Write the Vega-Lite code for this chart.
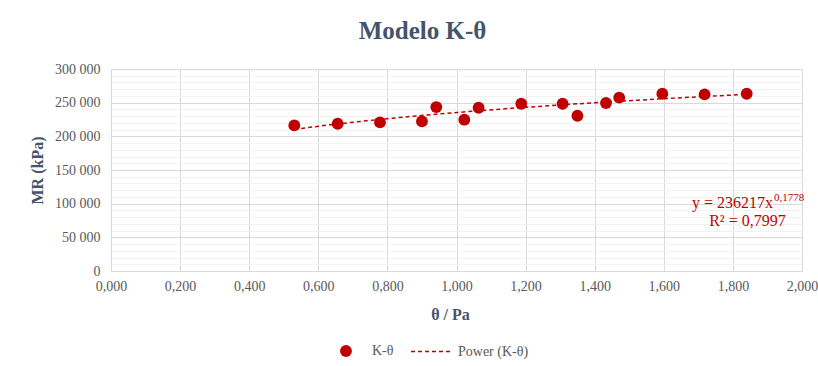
{
  "$schema": "https://vega.github.io/schema/vega-lite/v6.json",
  "width": 691,
  "height": 202,
  "autosize": {"type": "none"},
  "padding": {"left": 111, "top": 69, "right": 16, "bottom": 95},
  "background": "white",
  "title": {
    "text": "Modelo K-θ",
    "font": "Liberation Serif",
    "fontSize": 25,
    "fontWeight": "bold",
    "color": "#44546A",
    "anchor": "middle",
    "dx": -34,
    "offset": 18
  },
  "config": {
    "locale": {"number": {"decimal": ",", "thousands": " ", "grouping": [3], "currency": ["", ""]}},
    "view": {"stroke": null},
    "font": "Liberation Serif",
    "axis": {
      "titleFont": "Liberation Serif", "titleFontSize": 16, "titleFontWeight": "bold", "titleColor": "#44546A",
      "labelFont": "Liberation Serif", "labelFontSize": 14, "labelColor": "#595959",
      "labelOverlap": false, "ticks": false, "domainColor": "#D9D9D9", "gridColor": "#D9D9D9", "labelFlush": false
    },
    "axisX": {"titlePadding": 13, "labelPadding": 8, "titleX": 339},
    "axisY": {"titlePadding": 9, "labelPadding": 11}
  },
  "data": {
    "values": [
      {"theta": 0.5305, "MR": 216200},
      {"theta": 0.656, "MR": 218700},
      {"theta": 0.7786, "MR": 220700},
      {"theta": 0.900, "MR": 222200},
      {"theta": 0.9415, "MR": 243500},
      {"theta": 1.0226, "MR": 224700},
      {"theta": 1.064, "MR": 242500},
      {"theta": 1.1875, "MR": 248400},
      {"theta": 1.307, "MR": 248400},
      {"theta": 1.350, "MR": 230600},
      {"theta": 1.4327, "MR": 249500},
      {"theta": 1.471, "MR": 257400},
      {"theta": 1.5957, "MR": 263300},
      {"theta": 1.718, "MR": 262300},
      {"theta": 1.840, "MR": 263300}
    ]
  },
  "layer": [
    {
      "mark": {"type": "point", "filled": true, "size": 140, "opacity": 1, "color": "#C00000"},
      "encoding": {
        "x": {
          "field": "theta", "type": "quantitative",
          "scale": {"domain": [0, 2], "nice": false, "zero": true},
          "axis": {"values": [0, 0.2, 0.4, 0.6, 0.8, 1.0, 1.2, 1.4, 1.6, 1.8, 2.0], "format": ".3f", "title": "θ / Pa"}
        },
        "y": {
          "field": "MR", "type": "quantitative",
          "scale": {"domain": [0, 300000], "nice": false},
          "axis": {
            "values": [0, 10000, 20000, 30000, 40000, 50000, 60000, 70000, 80000, 90000, 100000, 110000, 120000, 130000, 140000, 150000, 160000, 170000, 180000, 190000, 200000, 210000, 220000, 230000, 240000, 250000, 260000, 270000, 280000, 290000, 300000],
            "format": ",d",
            "labelExpr": "datum.value % 50000 === 0 ? datum.label : ''",
            "title": "MR (kPa)",
            "gridColor": {"condition": {"test": "datum.value % 50000 === 0", "value": "#D9D9D9"}, "value": "#F2F2F2"}
          }
        },
        "shape": {
          "datum": "K-θ",
          "scale": {"domain": ["K-θ"], "range": ["circle"]},
          "legend": {
            "title": null,
            "orient": "none",
            "legendX": 228,
            "legendY": 275,
            "labelFont": "Liberation Serif",
            "labelFontSize": 14,
            "labelColor": "#595959",
            "symbolSize": 140,
            "symbolFillColor": "#C00000",
            "symbolStrokeWidth": 0,
            "symbolOpacity": 1,
            "labelOffset": 19
          }
        }
      }
    },
    {
      "transform": [{"regression": "MR", "on": "theta", "method": "pow"}],
      "mark": {"type": "line", "strokeWidth": 1.5, "color": "#C00000"},
      "encoding": {
        "x": {
          "field": "theta", "type": "quantitative",
          "axis": {"values": [0, 0.2, 0.4, 0.6, 0.8, 1.0, 1.2, 1.4, 1.6, 1.8, 2.0], "format": ".3f", "title": "θ / Pa"}
        },
        "y": {
          "field": "MR", "type": "quantitative",
          "axis": {
            "values": [0, 10000, 20000, 30000, 40000, 50000, 60000, 70000, 80000, 90000, 100000, 110000, 120000, 130000, 140000, 150000, 160000, 170000, 180000, 190000, 200000, 210000, 220000, 230000, 240000, 250000, 260000, 270000, 280000, 290000, 300000],
            "format": ",d",
            "labelExpr": "datum.value % 50000 === 0 ? datum.label : ''",
            "title": "MR (kPa)",
            "gridColor": {"condition": {"test": "datum.value % 50000 === 0", "value": "#D9D9D9"}, "value": "#F2F2F2"}
          }
        },
        "strokeDash": {
          "datum": "Power (K-θ)",
          "scale": {"domain": ["Power (K-θ)"], "range": [[4, 3]]},
          "legend": {
            "title": null,
            "orient": "none",
            "legendX": 299,
            "legendY": 262,
            "labelFont": "Liberation Serif",
            "labelFontSize": 14,
            "labelColor": "#595959",
            "symbolType": "stroke",
            "symbolSize": 1521,
            "symbolStrokeColor": "#C00000",
            "symbolStrokeWidth": 1.5,
            "labelOffset": 7
          }
        }
      }
    },
    {
      "data": {"values": [{}]},
      "mark": {"type": "text", "align": "right", "baseline": "alphabetic", "font": "Liberation Serif", "fontSize": 16, "color": "#C00000"},
      "encoding": {
        "x": {"datum": 1.916, "type": "quantitative", "axis": {"values": [0, 0.2, 0.4, 0.6, 0.8, 1.0, 1.2, 1.4, 1.6, 1.8, 2.0], "format": ".3f", "title": "θ / Pa"}},
        "y": {"datum": 94000, "type": "quantitative", "axis": {
            "values": [0, 10000, 20000, 30000, 40000, 50000, 60000, 70000, 80000, 90000, 100000, 110000, 120000, 130000, 140000, 150000, 160000, 170000, 180000, 190000, 200000, 210000, 220000, 230000, 240000, 250000, 260000, 270000, 280000, 290000, 300000],
            "format": ",d",
            "labelExpr": "datum.value % 50000 === 0 ? datum.label : ''",
            "title": "MR (kPa)",
            "gridColor": {"condition": {"test": "datum.value % 50000 === 0", "value": "#D9D9D9"}, "value": "#F2F2F2"}
          }},
        "text": {"value": "y = 236217x"}
      }
    },
    {
      "data": {"values": [{}]},
      "mark": {"type": "text", "align": "left", "baseline": "alphabetic", "font": "Liberation Serif", "fontSize": 11, "color": "#C00000"},
      "encoding": {
        "x": {"datum": 1.919, "type": "quantitative", "axis": {"values": [0, 0.2, 0.4, 0.6, 0.8, 1.0, 1.2, 1.4, 1.6, 1.8, 2.0], "format": ".3f", "title": "θ / Pa"}},
        "y": {"datum": 103400, "type": "quantitative", "axis": {
            "values": [0, 10000, 20000, 30000, 40000, 50000, 60000, 70000, 80000, 90000, 100000, 110000, 120000, 130000, 140000, 150000, 160000, 170000, 180000, 190000, 200000, 210000, 220000, 230000, 240000, 250000, 260000, 270000, 280000, 290000, 300000],
            "format": ",d",
            "labelExpr": "datum.value % 50000 === 0 ? datum.label : ''",
            "title": "MR (kPa)",
            "gridColor": {"condition": {"test": "datum.value % 50000 === 0", "value": "#D9D9D9"}, "value": "#F2F2F2"}
          }},
        "text": {"value": "0,1778"}
      }
    },
    {
      "data": {"values": [{}]},
      "mark": {"type": "text", "align": "center", "baseline": "alphabetic", "font": "Liberation Serif", "fontSize": 16, "color": "#C00000"},
      "encoding": {
        "x": {"datum": 1.842, "type": "quantitative", "axis": {"values": [0, 0.2, 0.4, 0.6, 0.8, 1.0, 1.2, 1.4, 1.6, 1.8, 2.0], "format": ".3f", "title": "θ / Pa"}},
        "y": {"datum": 66200, "type": "quantitative", "axis": {
            "values": [0, 10000, 20000, 30000, 40000, 50000, 60000, 70000, 80000, 90000, 100000, 110000, 120000, 130000, 140000, 150000, 160000, 170000, 180000, 190000, 200000, 210000, 220000, 230000, 240000, 250000, 260000, 270000, 280000, 290000, 300000],
            "format": ",d",
            "labelExpr": "datum.value % 50000 === 0 ? datum.label : ''",
            "title": "MR (kPa)",
            "gridColor": {"condition": {"test": "datum.value % 50000 === 0", "value": "#D9D9D9"}, "value": "#F2F2F2"}
          }},
        "text": {"value": "R² = 0,7997"}
      }
    }
  ]
}
